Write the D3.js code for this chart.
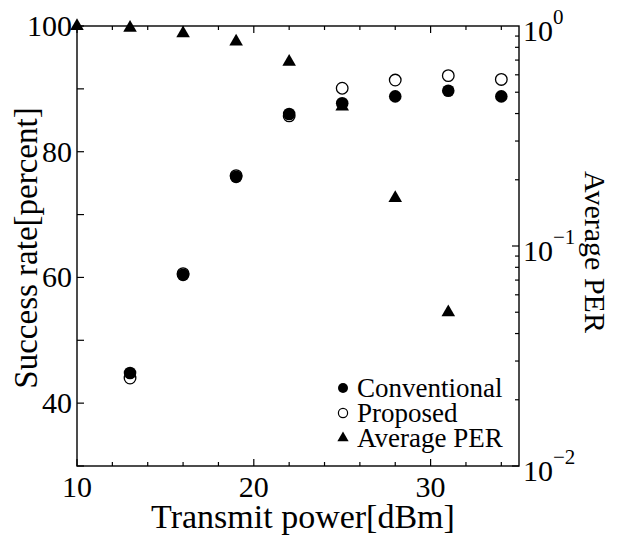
<!DOCTYPE html>
<html><head><meta charset="utf-8">
<script src="https://cdn.jsdelivr.net/npm/d3@7/dist/d3.min.js"></script>
<style>body{margin:0;background:#fff}svg{display:block}text{font-family:"Liberation Serif","Times New Roman",serif;fill:#000}</style>
</head><body><svg id="c" width="617" height="540"></svg>
<script>
const power = [10, 13, 16, 19, 22, 25, 28, 31, 34];
const conventional = [null, 44.8, 60.4, 76.0, 86.0, 87.7, 88.8, 89.7, 88.8];
const proposed = [null, 44.0, 60.6, 76.2, 85.7, 90.1, 91.4, 92.1, 91.5];
const perX = [10, 13, 16, 19, 22, 25, 28, 31];
const per = [1.0, 0.982, 0.927, 0.849, 0.688, 0.43, 0.165, 0.05];
const xTicks = [10, 20, 30];
const yTicks = [40, 60, 80, 100];
const perTicks = [0, -1, -2];
const legendLabels = ["Conventional", "Proposed", "Average PER"];

const svg = d3.select("#c");
const L = 77, R = 519, T = 26, B = 466;
const x = d3.scaleLinear().domain([10, 35]).range([L, R]);
const y = d3.scaleLinear().domain([30, 100]).range([B, T]);
const yp = d3.scaleLog().domain([0.01, 1]).range([B, T]);

const g = svg.append("g");
function tick(x1, y1, x2, y2) {
  g.append("line").attr("x1", x1).attr("y1", y1).attr("x2", x2).attr("y2", y2)
    .attr("stroke", "#000").attr("stroke-width", 1.2);
}
d3.range(10, 35.01, 2).forEach(v => {
  const major = v % 10 === 0;
  const len = major ? 7 : 4;
  tick(x(v), B, x(v), B - len);
  tick(x(v), T, x(v), T + len);
});
d3.range(30, 100.01, 10).forEach(v => tick(L, y(v), L + 7, y(v)));
[-2, -1].forEach(e => {
  for (let m = 1; m < 10; m++) {
    const v = m * Math.pow(10, e);
    tick(R, yp(v), R - (m === 1 ? 7 : 4), yp(v));
  }
});
g.append("rect").attr("x", L).attr("y", T).attr("width", R - L).attr("height", B - T)
  .attr("fill", "none").attr("stroke", "#000").attr("stroke-width", 1.4);

xTicks.forEach(v => g.append("text").attr("x", x(v)).attr("y", 497)
  .attr("text-anchor", "middle").attr("font-size", 30).text(v));
yTicks.forEach(v => g.append("text").attr("x", L - 5).attr("y", y(v) + 10)
  .attr("text-anchor", "end").attr("font-size", 30).text(v));
perTicks.forEach(e => {
  const t = g.append("text").attr("x", R + 4).attr("y", yp(Math.pow(10, e)) + 15).attr("font-size", 30);
  t.append("tspan").text("10");
  t.append("tspan").attr("dy", -17).attr("font-size", 21).text(e === 0 ? "0" : "\u2212" + (-e));
});

g.append("text").attr("x", (L + R) / 2 + 5).attr("y", 528).attr("text-anchor", "middle")
  .attr("font-size", 34).text("Transmit power[dBm]");
g.append("text").attr("transform", `translate(37,${(T + B) / 2 + 2}) rotate(-90)`)
  .attr("text-anchor", "middle").attr("font-size", 33).text("Success rate[percent]");
g.append("text").attr("transform", `translate(585,${(T + B) / 2 + 6}) rotate(90)`)
  .attr("text-anchor", "middle").attr("font-size", 30).text("Average PER");

const tri = d3.symbol().type(d3.symbolTriangle).size(80);
g.append("g").selectAll("path").data(perX.map((v, i) => [v, per[i]])).join("path")
  .attr("d", tri).attr("transform", d => `translate(${x(d[0])},${yp(d[1])})`).attr("fill", "#000");
g.append("g").selectAll("circle").data(power.map((v, i) => [v, proposed[i]]).filter(d => d[1] != null)).join("circle")
  .attr("cx", d => x(d[0])).attr("cy", d => y(d[1])).attr("r", 5.8)
  .attr("fill", "none").attr("stroke", "#000").attr("stroke-width", 1.3);
g.append("g").selectAll("circle").data(power.map((v, i) => [v, conventional[i]]).filter(d => d[1] != null)).join("circle")
  .attr("cx", d => x(d[0])).attr("cy", d => y(d[1])).attr("r", 6.3).attr("fill", "#000");

const lg = g.append("g");
const ly = [388, 413, 438];
lg.append("circle").attr("cx", 343).attr("cy", ly[0]).attr("r", 5).attr("fill", "#000");
lg.append("circle").attr("cx", 343).attr("cy", ly[1]).attr("r", 4.6).attr("fill", "none").attr("stroke", "#000").attr("stroke-width", 1.2);
lg.append("path").attr("d", d3.symbol().type(d3.symbolTriangle).size(55)).attr("transform", `translate(343,${ly[2]})`).attr("fill", "#000");
legendLabels.forEach((s, i) => lg.append("text").attr("x", 357).attr("y", ly[i] + 9)
  .attr("font-size", 27).text(s));
</script></body></html>
